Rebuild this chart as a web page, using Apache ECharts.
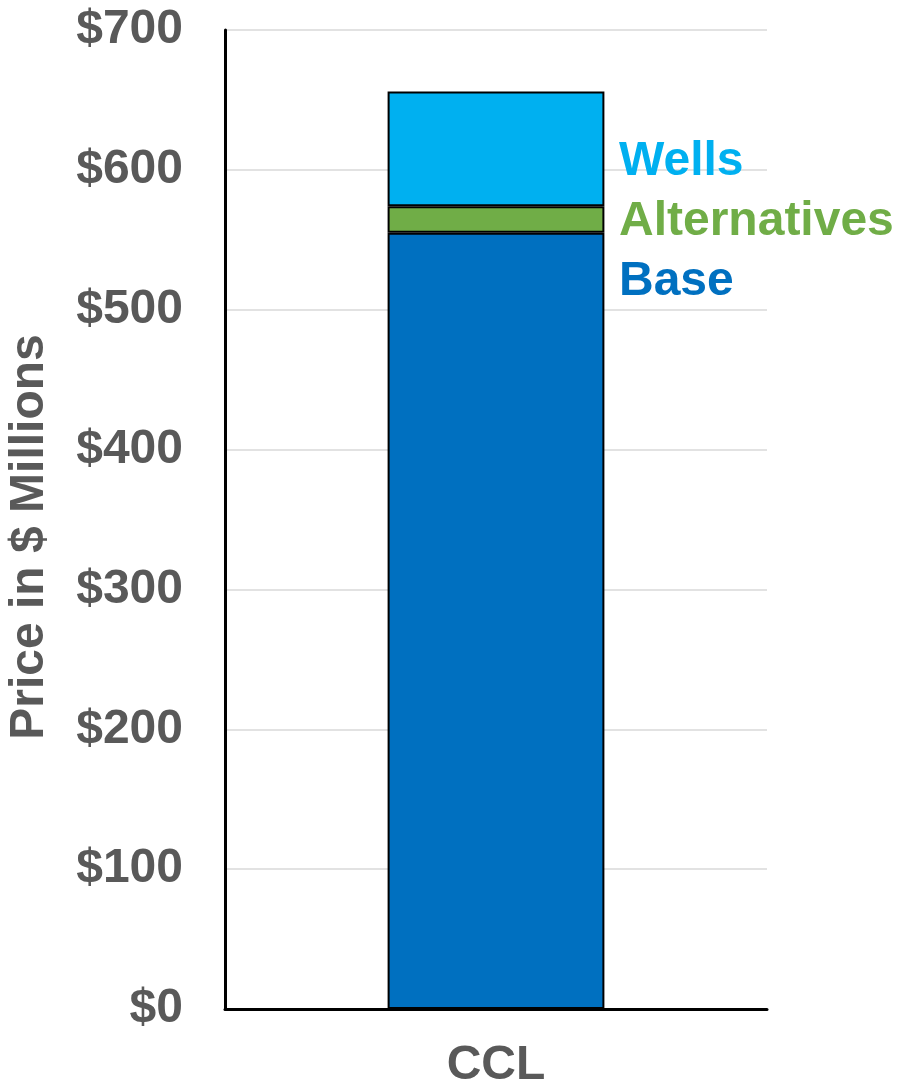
<!DOCTYPE html>
<html>
<head>
<meta charset="utf-8">
<script src="https://cdn.jsdelivr.net/npm/echarts@6/dist/echarts.min.js"></script>
<style>
  html, body { margin: 0; padding: 0; background: #fff; }
  #chart { width: 897px; height: 1084px; }
</style>
</head>
<body>
<div id="chart"></div>
<script>
// Data (values in $ millions)
const categories = ['CCL'];
const baseValues = [555];
const alternativesValues = [19];
const wellsValues = [82];
const yAxisTitle = 'Price in $ Millions';

const FONT = '"Liberation Sans", Arial, sans-serif';
const GREY = '#595959';
const SIZE = 48;

const chart = echarts.init(document.getElementById('chart'));

function barSeries(name, values, color) {
  return {
    name: name,
    type: 'bar',
    stack: 'total',
    barWidth: '40%',
    data: values,
    itemStyle: { color: color, borderColor: '#000', borderWidth: 2 }
  };
}

chart.setOption({
  animation: false,
  grid: { left: 225, right: 130, top: 30, bottom: 75, outerBoundsMode: 'none' },
  legend: {
    orient: 'vertical',
    left: 608,
    top: 133,
    itemWidth: 0,
    itemHeight: 0,
    itemGap: 12,
    selectedMode: false,
    data: [
      { name: 'Wells', textStyle: { color: '#00B0F0' } },
      { name: 'Alternatives', textStyle: { color: '#70AD47' } },
      { name: 'Base', textStyle: { color: '#0070C0' } }
    ],
    textStyle: { fontFamily: FONT, fontWeight: 'bold', fontSize: SIZE, lineHeight: SIZE }
  },
  xAxis: {
    type: 'category',
    data: categories,
    axisLine: { lineStyle: { color: '#000', width: 3 } },
    axisTick: { show: false },
    axisLabel: { color: GREY, fontFamily: FONT, fontWeight: 'bold', fontSize: SIZE, margin: 33 }
  },
  yAxis: {
    type: 'value',
    min: 0,
    max: 700,
    interval: 100,
    axisLine: { show: true, lineStyle: { color: '#000', width: 3 } },
    axisTick: { show: false },
    splitLine: { lineStyle: { color: '#d9d9d9', width: 1.5 } },
    axisLabel: {
      color: GREY, fontFamily: FONT, fontWeight: 'bold', fontSize: SIZE, margin: 42,
      formatter: function (v) { return '$' + v; }
    }
  },
  graphic: [{
    type: 'text',
    x: 30,
    y: 537,
    rotation: Math.PI / 2,
    style: {
      text: yAxisTitle,
      fill: GREY,
      font: 'bold ' + SIZE + 'px ' + FONT,
      textAlign: 'center',
      textVerticalAlign: 'middle'
    }
  }],
  series: [
    barSeries('Base', baseValues, '#0070C0'),
    barSeries('Alternatives', alternativesValues, '#70AD47'),
    barSeries('Wells', wellsValues, '#00B0F0')
  ]
});
</script>
</body>
</html>
